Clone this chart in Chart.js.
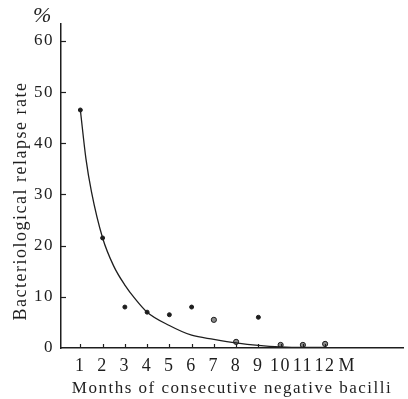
<!DOCTYPE html>
<html>
<head>
<meta charset="utf-8">
<script src="https://cdn.jsdelivr.net/npm/chart.js@4.4.1/dist/chart.umd.min.js"></script>
<style>
  html, body { margin: 0; padding: 0; background: #fff; }
  canvas { display: block; }
</style>
</head>
<body>
<canvas id="relapse" width="408" height="399"></canvas>
<script>
// observed relapse rate (%) per month of consecutive negative bacilli
const months = [1, 2, 3, 4, 5, 6, 7, 8, 9, 10, 11, 12];
const relapseRate = [46.5, 21.5, 8.0, 7.0, 6.5, 8.0, 5.5, 1.2, 6.0, 0.6, 0.6, 0.8];
// months drawn as a ringed dot in the original
const ringed = [7, 8, 10, 11, 12];

// fitted curve
const curveMonths = [1, 1.25, 1.5, 2, 2.5, 3, 3.5, 4, 5, 6, 7, 8, 9, 10, 11, 12];
const curveRate = [46.5, 37, 30.5, 21.5, 16, 12.3, 9.4, 7.0, 4.4, 2.5, 1.7, 1.0, 0.5, 0.2, 0.1, 0.1];

const yTicks = [0, 10, 20, 30, 40, 50, 60];
const xTicks = [1, 2, 3, 4, 5, 6, 7, 8, 9, 10, 11, 12, 13]; // 13 carries the "M"

const ink = '#1e1e1e';
const serif = '"Liberation Serif", "DejaVu Serif", serif';

// inward tick marks + the "%" unit label
const axisMarks = {
  id: 'axisMarks',
  beforeDraw(chart) {
    chart.ctx.letterSpacing = '1.5px';
  },
  afterDraw(chart) {
    const { ctx, scales: { x, y } } = chart;
    ctx.save();
    ctx.strokeStyle = ink;
    ctx.lineWidth = 1.2;
    yTicks.forEach(v => {
      if (v === 0) return;
      const py = Math.round(y.getPixelForValue(v)) + 0.5;
      ctx.beginPath(); ctx.moveTo(x.left, py); ctx.lineTo(x.left + 5, py); ctx.stroke();
    });
    months.forEach(m => {
      const px = Math.round(x.getPixelForValue(m)) + 0.5;
      ctx.beginPath(); ctx.moveTo(px, y.bottom); ctx.lineTo(px, y.bottom - 4); ctx.stroke();
    });
    ctx.fillStyle = ink;
    ctx.font = 'italic 22px ' + serif;
    ctx.textAlign = 'center';
    ctx.textBaseline = 'middle';
    ctx.fillText('%', 43, 16);
    ctx.restore();
  }
};

const ctx = document.getElementById('relapse').getContext('2d');
new Chart(ctx, {
  type: 'scatter',
  data: {
    datasets: [
      {
        label: 'fit',
        data: curveMonths.map((m, i) => ({ x: m, y: curveRate[i] })),
        showLine: true,
        borderColor: ink,
        borderWidth: 1.3,
        pointRadius: 0,
        tension: 0.4,
        cubicInterpolationMode: 'monotone'
      },
      {
        label: 'observed',
        data: months.map((m, i) => ({ x: m, y: relapseRate[i] })),
        pointStyle: 'circle',
        pointRadius: months.map(m => ringed.includes(m) ? 2.6 : 2),
        backgroundColor: months.map(m => ringed.includes(m) ? '#8a8a8a' : ink),
        borderColor: ink,
        borderWidth: 1
      }
    ]
  },
  options: {
    responsive: false,
    animation: false,
    layout: { padding: { top: 24, right: 2, left: 0, bottom: 0 } },
    plugins: { legend: { display: false }, tooltip: { enabled: false } },
    scales: {
      x: {
        type: 'linear',
        min: 0.13,
        max: 15.5,
        afterBuildTicks: s => { s.ticks = xTicks.map(v => ({ value: v })); },
        afterFit: s => { s.height = 51; },
        grid: { display: false, drawTicks: false },
        border: { display: true, color: ink, width: 1.5 },
        ticks: {
          color: ink,
          padding: 7,
          autoSkip: false,
          maxRotation: 0,
          font: { family: serif, size: 18 },
          callback: v => v === 13 ? 'M' : String(v)
        },
        title: {
          display: true,
          text: 'Months of consecutive negative bacilli',
          color: ink,
          font: { family: serif, size: 17 },
          padding: { top: 0, bottom: 0 }
        }
      },
      y: {
        min: 0,
        max: 63.3,
        afterBuildTicks: s => { s.ticks = yTicks.map(v => ({ value: v })); },
        afterFit: s => { s.width = 61; },
        grid: { display: false, drawTicks: false },
        border: { display: true, color: ink, width: 1.5 },
        ticks: {
          color: ink,
          padding: 7,
          font: { family: serif, size: 17 }
        },
        title: {
          display: true,
          text: 'Bacteriological relapse rate     ',
          color: ink,
          font: { family: serif, size: 18 },
          padding: { top: 10, bottom: 0 }
        }
      }
    }
  },
  plugins: [axisMarks]
});
</script>
</body>
</html>
